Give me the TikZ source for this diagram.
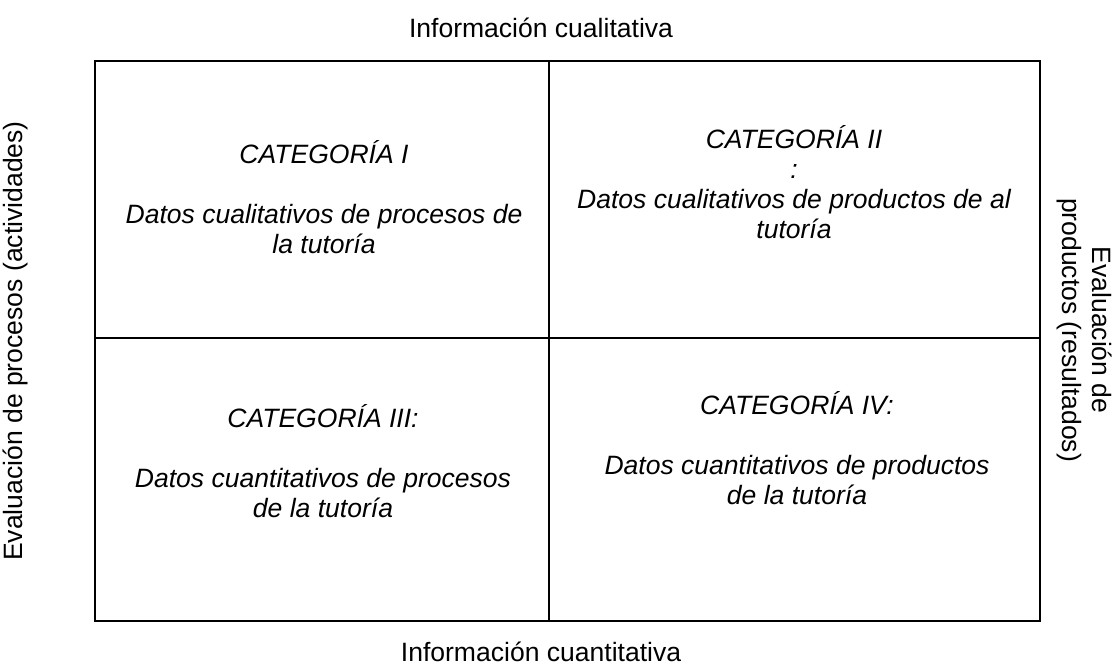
\documentclass[tikz,border=0pt]{standalone}
\usepackage{fontspec}
\setmainfont{Liberation Sans}
\tikzset{
  gridline/.style={line width=2.2pt, line cap=rect},
  celltext/.style={font=\fontsize{19.9}{22.5}\selectfont\itshape, align=center, inner sep=0pt, anchor=base},
  sidelabel/.style={font=\fontsize{19.9}{22.5}\selectfont, align=center, inner sep=0pt, anchor=base}
}
\begin{document}
\begin{tikzpicture}[x=0.75pt, y=-0.75pt]
\useasboundingbox (0,0) rectangle (1116,667);
\coordinate (nw) at (95,61);
\coordinate (se) at (1040,621);
\coordinate (mtop) at (549,61);
\coordinate (mbot) at (549,621);
\coordinate (mleft) at (95,338);
\coordinate (mright) at (1040,338);
\draw[gridline] (nw) rectangle (se);
\draw[gridline] (mtop) -- (mbot);
\draw[gridline] (mleft) -- (mright);
\node[celltext] (cat1) at (324,253) {CATEGORÍA I\\[22.5pt]Datos cualitativos de procesos de\\la tutoría};
\node[celltext] (cat2) at (794,238) {CATEGORÍA II\\:\\Datos cualitativos de productos de al\\tutoría};
\node[celltext] (cat3) at (323,517) {CATEGORÍA III:\\[22.5pt]Datos cuantitativos de procesos\\de la tutoría};
\node[celltext] (cat4) at (797,504) {CATEGORÍA IV:\\[22.5pt]Datos cuantitativos de productos\\de la tutoría};
\node[sidelabel] (cuali) at (541,38) {Información cualitativa};
\node[sidelabel] (cuanti) at (541,661) {Información cuantitativa};
\node[sidelabel, rotate=90] (procesos) at (22,341) {Evaluación de procesos (actividades)};
\node[sidelabel, rotate=-90] (productos) at (1062,330) {Evaluación de\\productos (resultados)};
\end{tikzpicture}
\end{document}
